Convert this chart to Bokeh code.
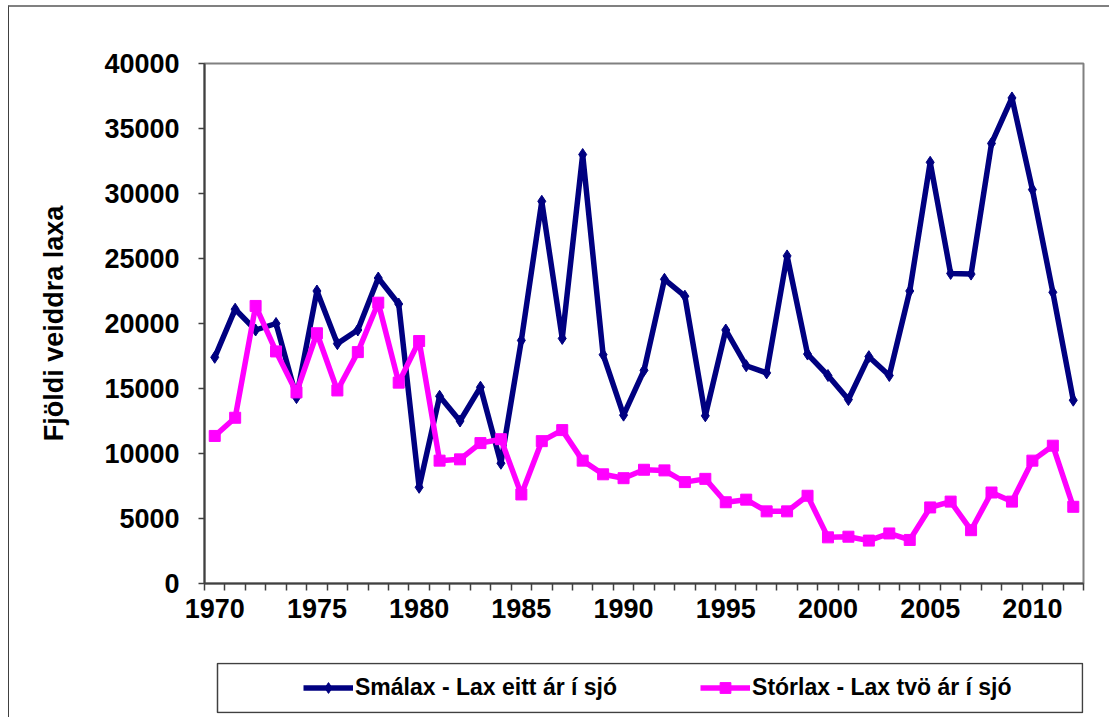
from bokeh.plotting import figure
from bokeh.layouts import column
from bokeh.models import FixedTicker, Legend, LegendItem, Range1d, BoxAnnotation
from bokeh.embed import file_html
from bokeh.resources import INLINE

years = list(range(1970, 2013))
smalax = [17400, 21100, 19500, 20000, 14300, 22500, 18450, 19500, 23500, 21500,
          7400, 14400, 12500, 15100, 9250, 18700, 29400, 18850, 33000, 17600,
          12950, 16400, 23400, 22100, 12900, 19500, 16750, 16200, 25200, 17650,
          16000, 14150, 17450, 16000, 22500, 32400, 23850, 23800, 33850, 37350,
          30300, 22400, 14100]
storlax = [11350, 12750, 21350, 17850, 14700, 19250, 14850, 17800, 21600, 15450,
           18650, 9450, 9550, 10800, 11100, 6850, 10950, 11800, 9450, 8400,
           8100, 8750, 8700, 7800, 8050, 6250, 6450, 5550, 5550, 6750,
           3550, 3600, 3300, 3850, 3350, 5850, 6300, 4100, 7000, 6300,
           9450, 10600, 5900]
x_label_years = [1970, 1975, 1980, 1985, 1990, 1995, 2000, 2005, 2010]
y_ticks = [0, 5000, 10000, 15000, 20000, 25000, 30000, 35000, 40000]
series_names = ["Smálax - Lax eitt ár í sjó", "Stórlax - Lax tvö ár í sjó"]
y_title = "Fjöldi veiddra laxa"

FONT = "Liberation Sans"
BLUE = "#000080"
MAGENTA = "#FF00FF"

# ---- main chart ----
p = figure(width=1100, height=643, output_backend="svg", toolbar_location=None,
           x_range=Range1d(years[0] - 0.5, years[-1] + 0.5),
           y_range=Range1d(y_ticks[0], y_ticks[-1]),
           min_border_left=195, min_border_right=26,
           min_border_top=56, min_border_bottom=67)
p.background_fill_color = "white"
p.border_fill_color = "white"
p.outline_line_color = "#808080"
p.outline_line_width = 2
p.xgrid.visible = False
p.ygrid.visible = False

boundaries = [y - 0.5 for y in years] + [years[-1] + 0.5]
p.xaxis.ticker = FixedTicker(ticks=x_label_years, minor_ticks=boundaries)
p.yaxis.ticker = FixedTicker(ticks=y_ticks, minor_ticks=[])

for ax in (p.xaxis[0], p.yaxis[0]):
    ax.axis_line_color = "#404040"
    ax.axis_line_width = 2
    ax.major_label_text_font = FONT
    ax.major_label_text_font_style = "bold"
    ax.major_label_text_font_size = "27px"
    ax.major_label_text_color = "black"
    ax.major_tick_line_color = "#404040"
    ax.minor_tick_line_color = "#404040"
    ax.major_tick_line_width = 1.5
    ax.minor_tick_line_width = 1.5

p.xaxis.major_tick_out = 0
p.xaxis.major_tick_in = 0
p.xaxis.minor_tick_out = 7
p.xaxis.minor_tick_in = 0
p.xaxis.major_label_standoff = 8

p.yaxis.major_tick_out = 6
p.yaxis.major_tick_in = 0
p.yaxis.minor_tick_out = 0
p.yaxis.major_label_standoff = 19
p.yaxis.axis_label = y_title
p.yaxis.axis_label_text_font = FONT
p.yaxis.axis_label_text_font_style = "bold"
p.yaxis.axis_label_text_font_size = "27px"
p.yaxis.axis_label_text_color = "black"
p.yaxis.axis_label_standoff = 32

p.line(years, smalax, line_color=BLUE, line_width=5.5)
p.scatter(years, smalax, marker="diamond", size=12, color=BLUE)
p.line(years, storlax, line_color=MAGENTA, line_width=5.5)
p.scatter(years, storlax, marker="square", size=11, color=MAGENTA)

# ---- legend panel (frame aligned with the chart frame; ranges in page pixels) ----
q = figure(width=1100, height=67, output_backend="svg", toolbar_location=None,
           x_range=Range1d(204, 1083), y_range=Range1d(713, 662),
           x_axis_type=None, y_axis_type=None,
           min_border_left=195, min_border_right=26,
           min_border_top=12, min_border_bottom=4)
q.background_fill_color = "white"
q.border_fill_color = "white"
q.outline_line_color = None
q.xgrid.visible = False
q.ygrid.visible = False

legend_box = BoxAnnotation(left=217, right=1082, top=663, bottom=712,
                           fill_alpha=0, line_color="#404040", line_alpha=1.0,
                           line_width=1.5)
q.add_layout(legend_box)

ql1 = q.line(years, smalax, line_color=BLUE, line_width=5.5, visible=False)
qm1 = q.scatter(years, smalax, marker="diamond", size=12, color=BLUE, visible=False)
ql2 = q.line(years, storlax, line_color=MAGENTA, line_width=5.5, visible=False)
qm2 = q.scatter(years, storlax, marker="square", size=11, color=MAGENTA, visible=False)

legend = Legend(items=[LegendItem(label=series_names[0], renderers=[ql1, qm1]),
                       LegendItem(label=series_names[1], renderers=[ql2, qm2])],
                orientation="horizontal", location=(99, 12),
                glyph_width=50, glyph_height=27, label_standoff=2,
                spacing=83, padding=0, margin=0, border_line_alpha=0,
                background_fill_alpha=0,
                label_text_font=FONT, label_text_font_style="bold",
                label_text_font_size="23px", label_text_color="black")
q.add_layout(legend, "center")

layout = column(p, q, spacing=0, margin=(5, 0, 0, 8),
                styles={"border-left": "1px solid #404040",
                        "border-top": "2px solid #808080"})

open("out.html", "w").write(file_html(layout, INLINE))
